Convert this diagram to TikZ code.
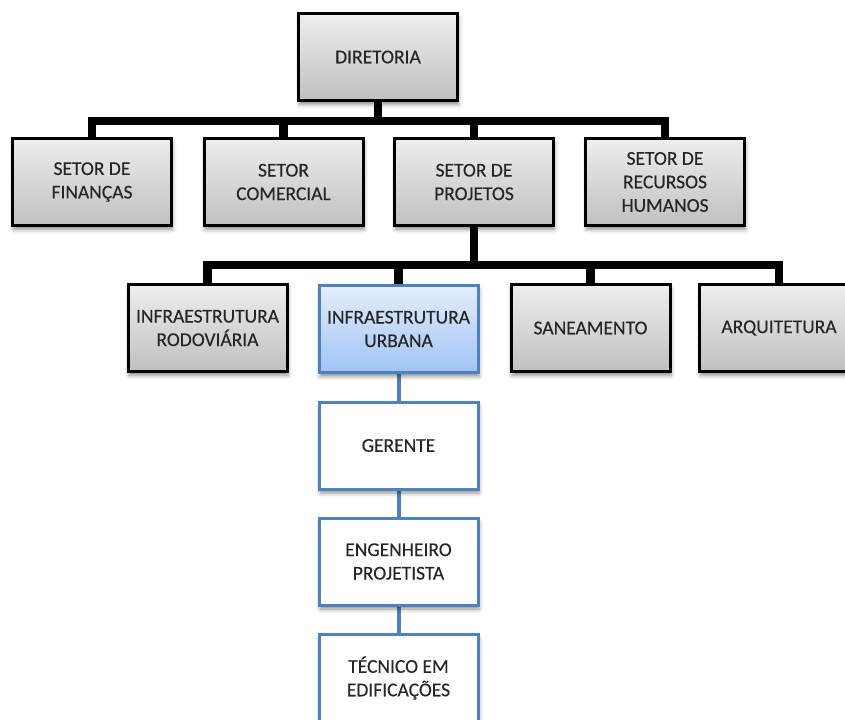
\documentclass[tikz,border=0pt]{standalone}
\usepackage{fontspec}
\setmainfont{Carlito}
\newfontfamily\boxfont{Carlito}[FakeBold=0.3]
\usetikzlibrary{shadows.blur,backgrounds}
\definecolor{gtop}{RGB}{238,238,238}
\definecolor{gbot}{RGB}{192,192,192}
\definecolor{btop}{RGB}{228,238,253}
\definecolor{bbot}{RGB}{160,195,245}
\definecolor{bborder}{RGB}{79,129,189}
\definecolor{txt}{RGB}{38,38,38}
\begin{document}
\begin{tikzpicture}[x=1bp,y=-1bp,
  base/.style={minimum width=159bp, minimum height=87bp, align=center, text=txt,
    font=\boxfont\fontsize{19.5bp}{23.5bp}\selectfont, inner sep=2bp,
    blur shadow={shadow xshift=1bp, shadow yshift=-4bp, shadow blur radius=4bp, shadow opacity=45}},
  gbox/.style={base, draw=black, line width=3bp, top color=gtop, bottom color=gbot},
  ubox/.style={base, draw=bborder, line width=3bp, top color=btop, bottom color=bbot},
  wbox/.style={base, draw=bborder, line width=3bp, fill=white},
  bus/.style={draw=black, line width=8.5bp, line join=miter},
  bline/.style={draw=bborder, line width=4bp}
]
\useasboundingbox (0,0) rectangle (845,720);
\clip (0,0) rectangle (845,720);

\node[gbox] (dir) at (378,57) {DIRETORIA};

\node[gbox] (fin) at (92,182) {SETOR DE\\FINANÇAS};
\node[gbox] (com) at (283.5,182) {SETOR\\COMERCIAL};
\node[gbox] (proj) at (474,182) {SETOR DE\\PROJETOS};
\node[gbox] (rh) at (665,182) {SETOR DE\\RECURSOS\\HUMANOS};

\node[gbox] (rod) at (207.5,328) {INFRAESTRUTURA\\RODOVIÁRIA};
\node[ubox] (urb) at (398.5,329) {INFRAESTRUTURA\\URBANA};
\node[gbox] (san) at (590.5,328) {SANEAMENTO};
\node[gbox] (arq) at (779,328) {ARQUITETURA};

\node[wbox] (ger) at (398.5,445.5) {GERENTE};
\node[wbox] (eng) at (398.5,561.5) {ENGENHEIRO\\PROJETISTA};
\node[wbox] (tec) at (398.5,678) {TÉCNICO EM\\EDIFICAÇÕES};

\coordinate (bar1) at (378,121);
\coordinate (bar2) at (474,265);

\begin{scope}[on background layer]
  \draw[bus] (fin.north) |- (bar1) -| (rh.north);
  \draw[bus] (dir.south) -- (dir.south |- bar1);
  \draw[bus] (com.north) -- (com.north |- bar1);
  \draw[bus] (proj.north) -- (proj.north |- bar1);
  \draw[bus] (rod.north) |- (bar2) -| (arq.north);
  \draw[bus] (proj.south) -- (proj.south |- bar2);
  \draw[bus] (urb.north) -- (urb.north |- bar2);
  \draw[bus] (san.north) -- (san.north |- bar2);
  \draw[bline] (urb.south) -- (ger.north);
  \draw[bline] (ger.south) -- (eng.north);
  \draw[bline] (eng.south) -- (tec.north);
\end{scope}
\end{tikzpicture}
\end{document}
